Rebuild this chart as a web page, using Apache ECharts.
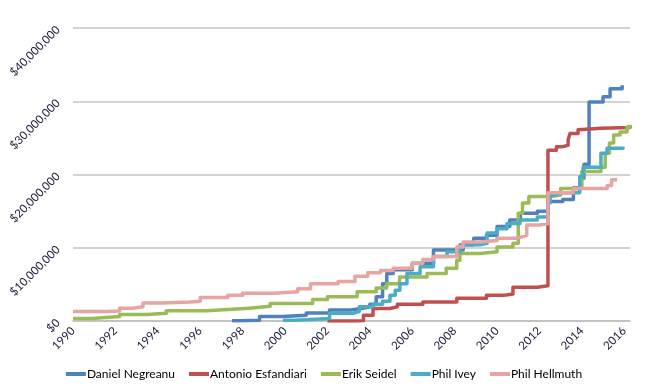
<!DOCTYPE html>
<html>
<head>
<meta charset="utf-8">
<script src="https://cdn.jsdelivr.net/npm/echarts@6/dist/echarts.min.js"></script>
<style>html,body{margin:0;padding:0;background:#fff}#c{width:648px;height:391px}</style>
</head>
<body>
<div id="c"></div>
<script>
const seriesNames = ['Daniel Negreanu', 'Antonio Esfandiari', 'Erik Seidel', 'Phil Ivey', 'Phil Hellmuth'];
const yTicks = [0, 10000000, 20000000, 30000000, 40000000];
const xTicks = [1990, 1992, 1994, 1996, 1998, 2000, 2002, 2004, 2006, 2008, 2010, 2012, 2014, 2016];

// [year, cumulative earnings in $ millions]
const negreanu = [[1997.5,0.05],[1997.9,0.1],[1998.8,0.6],[1999.9,0.8],[2001.0,1.1],[2002.1,1.5],[2003.1,1.7],[2003.6,1.95],[2004.0,2.3],[2004.3,3.3],[2004.6,5.1],[2004.8,6.5],[2005.1,7.0],[2006.0,7.9],[2007.0,9.7],[2008.4,10.4],[2008.9,11.3],[2009.5,11.7],[2010.0,12.9],[2010.6,13.8],[2011.1,14.7],[2011.9,15.0],[2012.4,16.3],[2013.1,16.6],[2013.6,18.2],[2013.9,19.5],[2014.1,21.4],[2014.34,29.9],[2015.0,30.6],[2015.33,31.7],[2015.9,32.2]];
const esfandiari = [[2002.0,0],[2003.2,0.05],[2003.7,0.8],[2004.15,1.7],[2004.95,1.95],[2005.3,2.3],[2006.5,2.6],[2008.1,3.1],[2009.5,3.5],[2010.3,3.7],[2010.75,4.6],[2011.9,4.8],[2012.4,23.3],[2012.8,23.8],[2013.1,24.0],[2013.35,24.7],[2013.44,25.6],[2013.82,26.1],[2013.9,26.3],[2014.9,26.4],[2016.27,26.7]];
const seidel = [[1990.0,0.35],[1990.9,0.6],[1992.2,0.9],[1993.5,1.05],[1994.4,1.4],[1996.3,1.6],[1997.5,1.75],[1998.3,2.0],[1999.3,2.4],[2001.3,2.95],[2002.0,3.3],[2003.4,4.0],[2004.3,4.5],[2004.8,5.1],[2005.4,6.0],[2006.7,6.5],[2007.6,7.2],[2008.1,8.3],[2008.25,9.2],[2009.2,9.45],[2010.0,10.1],[2010.75,10.6],[2011.0,14.7],[2011.2,16.1],[2011.5,17.0],[2012.5,17.2],[2013.0,18.1],[2014.0,20.4],[2014.9,21.0],[2015.1,22.9],[2015.3,24.3],[2015.5,25.4],[2015.8,25.8],[2016.13,26.5],[2016.27,26.8]];
const ivey = [[1999.9,0.1],[2000.5,0.35],[2002.1,1.05],[2003.2,1.3],[2003.5,1.95],[2004.15,2.3],[2004.6,2.7],[2004.95,3.5],[2005.2,4.2],[2005.42,5.1],[2005.75,6.5],[2006.37,7.4],[2007.0,8.8],[2007.64,9.45],[2008.25,10.4],[2009.2,10.6],[2009.53,12.0],[2010.0,12.6],[2010.47,13.3],[2011.08,13.8],[2011.9,14.2],[2012.4,16.1],[2012.5,17.2],[2012.83,17.5],[2013.9,19.7],[2014.06,21.0],[2014.9,22.9],[2015.19,23.6],[2015.94,23.8]];
const hellmuth = [[1990.0,1.3],[1991.5,1.35],[1992.2,1.75],[1992.8,1.95],[1993.3,2.45],[1994.2,2.6],[1995.5,2.7],[1996.0,3.2],[1997.3,3.5],[1998.0,3.8],[1999.5,4.0],[2000.6,4.4],[2001.2,5.1],[2002.5,5.4],[2003.3,6.1],[2003.9,6.6],[2004.5,6.9],[2005.1,7.2],[2006.0,7.9],[2006.5,8.4],[2007.0,8.8],[2008.1,10.1],[2008.4,10.8],[2009.2,11.0],[2010.0,11.3],[2010.9,11.5],[2011.2,11.7],[2011.4,13.1],[2012.0,13.3],[2012.4,17.5],[2013.6,18.1],[2015.2,18.5],[2015.4,19.3],[2015.66,19.3]];

const allData = [negreanu, esfandiari, seidel, ivey, hellmuth];
const colors = ['#4F81BD', '#C0504D', '#9BBB59', '#4BACC6', '#E6A4A3'];

const chart = echarts.init(document.getElementById('c'));
const labelColor = '#1c1c3c';
chart.setOption({
  animation: false,
  color: colors,
  grid: { left: 73, right: 18, top: 28, bottom: 70, containLabel: false },
  xAxis: {
    type: 'value', min: 1990, max: 2016.27, interval: 2,
    axisLine: { lineStyle: { color: '#bfbfbf', width: 1.5 } },
    axisTick: { show: false },
    splitLine: { show: false },
    axisLabel: {
      rotate: 45, margin: 8, color: labelColor, fontFamily: 'Lato', fontSize: 11.5,
      showMaxLabel: false,
      formatter: v => xTicks.includes(Math.round(v * 100) / 100) ? String(v) : ''
    }
  },
  yAxis: {
    type: 'value', min: 0, max: 40000000, interval: 10000000,
    axisLine: { show: false }, axisTick: { show: false },
    splitLine: { lineStyle: { color: '#c4c4c4', width: 1.5 } },
    axisLabel: {
      rotate: 45, margin: 15, color: labelColor, fontFamily: 'Lato', fontSize: 11.5,
      formatter: v => yTicks.includes(v) ? '$' + v.toLocaleString('en-US') : ''
    }
  },
  legend: {
    bottom: 6, left: 'center',
    icon: 'rect', itemWidth: 20, itemHeight: 4, itemGap: 14,
    textStyle: { color: '#000', fontFamily: 'Lato', fontSize: 12, padding: [0, 0, 0, -4] },
    data: seriesNames
  },
  series: seriesNames.map((name, i) => ({
    name, type: 'line', step: 'end', showSymbol: false, symbol: 'none',
    lineStyle: { width: 3.5, color: colors[i], join: 'round' },
    z: 2 + i,
    data: allData[i].map(p => [p[0], p[1] * 1000000])
  }))
});
</script>
</body>
</html>
